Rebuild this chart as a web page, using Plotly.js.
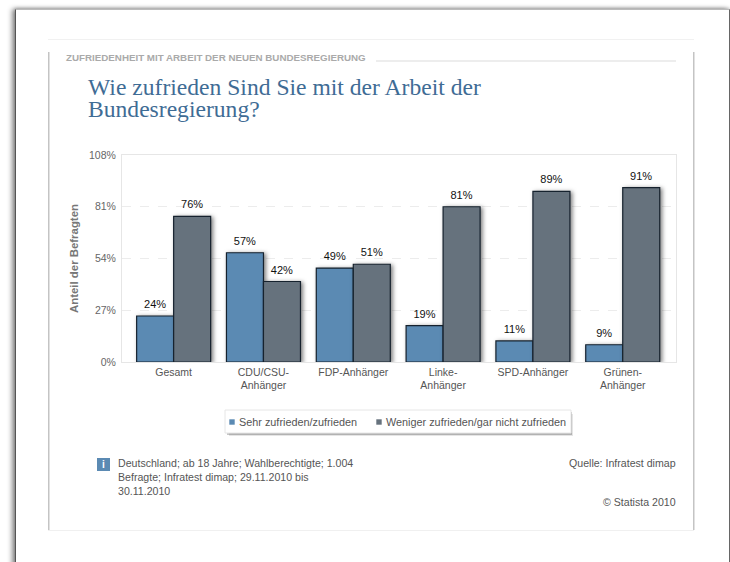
<!DOCTYPE html>
<html><head><meta charset="utf-8">
<script src="https://cdn.plot.ly/plotly-3.0.1.min.js"></script>
<style>
html,body{margin:0;padding:0;background:#fff;width:730px;height:562px;overflow:hidden}
#card{position:absolute;left:15px;top:9px;width:713px;height:600px;background:#fff;border-left:1px solid #555;border-right:1px solid #666;border-top:1px solid #bbb;box-shadow:-3px 0 5px rgba(0,0,0,.45),0 -1px 3px rgba(0,0,0,.2)}
#chart{position:absolute;left:0;top:0;width:730px;height:562px}
.barlayer .point path{filter:drop-shadow(2px 1px 2px rgba(0,0,0,.5))}
.barlayer text.bartext{translate:0 -3px}
.legend .legendpoints path{transform:translate(33px,0) scale(.45);stroke-width:0 !important}
.legend .scrollbox{clip-path:none !important}
</style></head><body>
<div id="card"></div><div id="chart"></div>
<script>
const categories=['Gesamt','CDU/CSU-<br>Anhänger','FDP-Anhänger','Linke-<br>Anhänger','SPD-Anhänger','Grünen-<br>Anhänger'];
const zufrieden=[24,57,49,19,11,9];
const nichtZufrieden=[76,42,51,81,89,91];
const yTicks=[0,27,54,81,108];
const yTickLabels=['0%','27%','54%','81%','108%'];
const seriesNames=['Sehr zufrieden/zufrieden','Weniger zufrieden/gar nicht zufrieden'];
const colors=['#5b8ab3','#66727d'];
const W=730,H=562;
const ml=122,mr=54,mt=155,mb=200;
const fx=x=>x/W, fy=y=>1-y/H;
const positions=categories.map((_,i)=>i);
function bar(y,i){return {type:'bar',x:positions,y:y,name:seriesNames[i],
 marker:{color:colors[i],line:{color:'#16222e',width:1.2}},
 text:y.map(v=>v+'%'),textposition:'outside',cliponaxis:false,
 textfont:{family:'Liberation Sans',size:11,color:'#111'},hoverinfo:'skip'};}
function rect(x0,y0,x1,y1,fill,line){return {type:'rect',xref:'paper',yref:'paper',layer:'below',
 x0:(x0-ml)/(W-ml-mr),x1:(x1-ml)/(W-ml-mr),y0:(H-mb-y0)/(H-mt-mb),y1:(H-mb-y1)/(H-mt-mb),
 fillcolor:fill,line:line||{width:0}};}
function note(x,y,text,opt){return Object.assign({text:text,showarrow:false,xref:'paper',yref:'paper',
 x:(x-ml)/(W-ml-mr),y:(H-mb-y)/(H-mt-mb),xanchor:'left',yanchor:'middle',align:'left',
 font:{family:'Liberation Sans',size:10.6,color:'#555'}},opt||{});}
const shapes=[
 rect(48,52,49.5,530,'#c4c4c4'),
 rect(693,52,694.5,530,'#c4c4c4'),
 rect(48,39,694,40,'#f1f1f1'),
 rect(48,530,694,531,'#f0f0f0'),
 rect(376,60.5,676,61.5,'#dcdcdc'),
 rect(229,414,573,436,'rgba(0,0,0,.10)'),
 rect(227,412,572,435,'rgba(0,0,0,.22)'),
 rect(225,410,571,433,'#fff',{color:'#e6e6e6',width:1}),
 rect(97,458,110,471,'#5b8ab3')
];
const annotations=[
 note(64,58,'ZUFRIEDENHEIT MIT ARBEIT DER NEUEN BUNDESREGIERUNG',{font:{family:'Liberation Sans',size:9.77,color:'#aaa',weight:700}}),
 note(103.5,464.5,'i',{xanchor:'center',font:{family:'Liberation Sans',size:10,color:'#fff',weight:700}}),
 note(116,477,'Deutschland; ab 18 Jahre; Wahlberechtigte; 1.004<br>Befragte; Infratest dimap; 29.11.2010 bis<br>30.11.2010'),
 note(678,463,'Quelle: Infratest dimap',{xanchor:'right',align:'right'}),
 note(678,502,'© Statista 2010',{xanchor:'right',align:'right'})
];
const layout={width:W,height:H,margin:{l:ml,r:mr,t:mt,b:mb,autoexpand:false},
 paper_bgcolor:'rgba(0,0,0,0)',plot_bgcolor:'rgba(0,0,0,0)',
 barmode:'group',bargap:0.176,bargroupgap:0,
 title:{text:'Wie zufrieden Sind Sie mit der Arbeit der<br>Bundesregierung?',xref:'container',yref:'container',x:fx(88),y:fy(95),xanchor:'left',yanchor:'top',
  font:{family:'Liberation Serif',size:23.6,color:'#3f6c95'}},
 xaxis:{range:[-0.575,5.593],tickvals:positions,ticktext:categories,showgrid:false,zeroline:false,ticks:'',
  showline:true,mirror:true,linecolor:'#e6e6e6',linewidth:1,
  tickfont:{family:'Liberation Sans',size:10.5,color:'#555'}},
 yaxis:{range:[0,108],tickvals:yTicks,ticktext:yTickLabels,ticks:'',gridcolor:'#ececec',griddash:'dash',gridwidth:1,zeroline:false,
  showline:true,mirror:true,linecolor:'#e6e6e6',linewidth:1,ticklabelstandoff:3,
  tickfont:{family:'Liberation Sans',size:10.5,color:'#666'},
  title:{text:'Anteil der Befragten',standoff:8,font:{family:'Liberation Sans',size:11.4,color:'#777',weight:700}}},
 legend:{orientation:'h',xref:'container',yref:'container',x:fx(199),y:fy(422),xanchor:'left',yanchor:'middle',bgcolor:'rgba(0,0,0,0)',
  entrywidth:102,entrywidthmode:'pixels',itemwidth:30,font:{family:'Liberation Sans',size:10.85,color:'#555'},itemclick:false,itemdoubleclick:false},
 shapes:shapes,annotations:annotations};
Plotly.newPlot('chart',[bar(zufrieden,0),bar(nichtZufrieden,1)],layout,{displayModeBar:false,staticPlot:true}).then(()=>{
 const ls=document.querySelectorAll('.gtitle tspan.line');
 if(ls.length>1){const y0=parseFloat(ls[0].getAttribute('y'));
  if(!isNaN(y0)){ls[1].setAttribute('y',y0+22);ls[1].setAttribute('dy','0');}}
});
</script></body></html>
